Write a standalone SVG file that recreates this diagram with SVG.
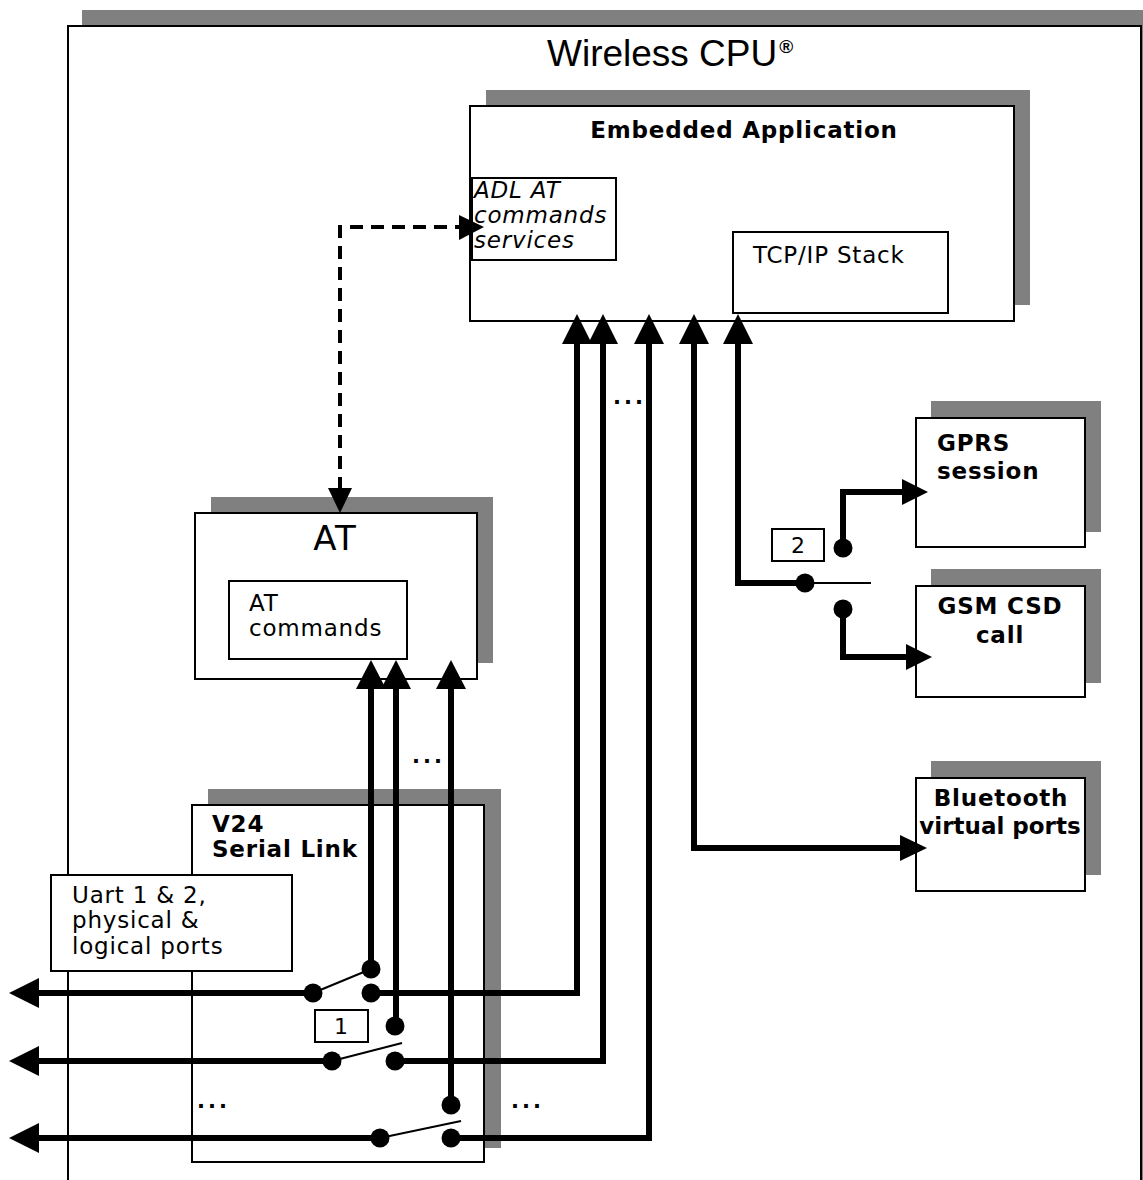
<svg xmlns="http://www.w3.org/2000/svg" width="1143" height="1180" viewBox="0 0 1143 1180">
<style>
.sh{fill:#808080;stroke:none}
.bx{fill:#fff;stroke:#000;stroke-width:2}
.t{font-family:"DejaVu Sans",Verdana,sans-serif;font-size:23px;letter-spacing:0.8px;fill:#000}
.b{font-weight:bold}
.i{font-style:italic}
.big{font-size:34px;letter-spacing:1px}
.sm{font-size:22px;letter-spacing:0}
.dots{font-size:21px;letter-spacing:3px;font-weight:bold}
.w{stroke:#000;stroke-width:6;fill:none}
.thin{stroke:#000;stroke-width:2;fill:none}
.dash{stroke:#000;stroke-width:4;fill:none;stroke-dasharray:13 8}
.dot{fill:#000}
.ah{fill:#000}
</style>
<rect x="0" y="0" width="1143" height="1180" fill="#fff"/>
<g id="wireless-cpu">
<rect class="sh" x="82" y="10" width="1090" height="1200"/>
<rect class="bx" x="68" y="26" width="1073" height="1200"/>
<text x="547" y="66" style="font-family:'Liberation Sans',Arial,sans-serif;font-size:37px">Wireless CPU<tspan dx="2" dy="-13" style="font-size:19px;font-weight:bold">®</tspan></text>
</g>
<g id="embedded-application">
<rect class="sh" x="486" y="90" width="544" height="215"/>
<rect class="bx" x="470" y="106" width="544" height="215"/>
<text class="t b" x="744" y="138" text-anchor="middle">Embedded Application</text>
</g>
<g id="adl-at-commands">
<rect class="bx" x="472" y="178" width="144" height="82"/>
<text class="t i" x="474" y="198">ADL AT</text>
<text class="t i" x="474" y="223">commands</text>
<text class="t i" x="474" y="248">services</text>
</g>
<g id="tcpip-stack">
<rect class="bx" x="733" y="232" width="215" height="81"/>
<text class="t" x="753" y="263">TCP/IP Stack</text>
</g>
<g id="at">
<rect class="sh" x="211" y="497" width="282" height="166"/>
<rect class="bx" x="195" y="513" width="282" height="166"/>
<text class="t big" x="335" y="550" text-anchor="middle">AT</text>
</g>
<g id="at-commands">
<rect class="bx" x="229" y="581" width="178" height="78"/>
<text class="t" x="249" y="611">AT</text>
<text class="t" x="249" y="636">commands</text>
</g>
<g id="gprs-session">
<rect class="sh" x="931" y="401" width="170" height="131"/>
<rect class="bx" x="916" y="418" width="169" height="129"/>
<text class="t b" x="937" y="451">GPRS</text>
<text class="t b" x="937" y="479">session</text>
</g>
<g id="gsm-csd-call">
<rect class="sh" x="931" y="569" width="170" height="114"/>
<rect class="bx" x="916" y="586" width="169" height="111"/>
<text class="t b" x="1000" y="614" text-anchor="middle">GSM CSD</text>
<text class="t b" x="1000" y="643" text-anchor="middle">call</text>
</g>
<g id="bluetooth-virtual-ports">
<rect class="sh" x="931" y="761" width="170" height="114"/>
<rect class="bx" x="916" y="778" width="169" height="113"/>
<text class="t b" x="1001" y="806" text-anchor="middle">Bluetooth</text>
<text class="t b" x="1000" y="834" text-anchor="middle" style="letter-spacing:0">virtual ports</text>
</g>
<g id="v24-serial-link">
<rect class="sh" x="208" y="789" width="293" height="359"/>
<rect class="bx" x="192" y="805" width="292" height="357"/>
<text class="t b" x="212" y="832">V24</text>
<text class="t b" x="212" y="857">Serial Link</text>
</g>
<g id="uart-ports">
<rect class="bx" x="51" y="875" width="241" height="96"/>
<text class="t" x="72" y="903">Uart 1 &amp; 2,</text>
<text class="t" x="72" y="928">physical &amp;</text>
<text class="t" x="72" y="954">logical ports</text>
</g>
<g id="switch-1-label">
<rect class="bx" x="315" y="1010" width="53" height="32"/>
<text class="t sm" x="341" y="1034" text-anchor="middle">1</text>
</g>
<g id="switch-2-label">
<rect class="bx" x="772" y="529" width="52" height="32"/>
<text class="t sm" x="798" y="553" text-anchor="middle">2</text>
</g>
<g id="connectors">
<polyline class="dash" points="340,490 340,227 460,227"/>
<polygon class="ah" points="340,513 328,488 352,488"/>
<polygon class="ah" points="484,227 459,215 459,240"/>
<polyline class="w" points="577,340 577,993 370,993"/>
<polyline class="w" points="603,340 603,1061 395,1061"/>
<polyline class="w" points="649,340 649,1138 451,1138"/>
<polyline class="w" points="694,340 694,848 902,848"/>
<polyline class="w" points="738,340 738,583 805,583"/>
<polygon class="ah" points="577,314 562,344 592,344"/>
<polygon class="ah" points="603,314 588,344 618,344"/>
<polygon class="ah" points="649,314 634,344 664,344"/>
<polygon class="ah" points="694,314 679,344 709,344"/>
<polygon class="ah" points="738,314 723,344 753,344"/>
<polygon class="ah" points="927,848 900,835 900,861"/>
<line class="thin" x1="805" y1="583" x2="871" y2="583"/>
<circle class="dot" cx="805" cy="583" r="9.5"/>
<circle class="dot" cx="843" cy="548" r="9.5"/>
<circle class="dot" cx="843" cy="609" r="9.5"/>
<polyline class="w" points="843,548 843,492 904,492"/>
<polyline class="w" points="843,609 843,657 908,657"/>
<polygon class="ah" points="928,492 902,479 902,505"/>
<polygon class="ah" points="932,657 906,644 906,670"/>
<line class="w" x1="371" y1="685" x2="371" y2="969"/>
<line class="w" x1="396" y1="685" x2="396" y2="1026"/>
<line class="w" x1="451" y1="685" x2="451" y2="1105"/>
<polygon class="ah" points="371,660 356,689 386,689"/>
<polygon class="ah" points="396,660 381,689 411,689"/>
<polygon class="ah" points="451,660 436,689 466,689"/>
<line class="w" x1="38" y1="993" x2="313" y2="993"/>
<line class="w" x1="38" y1="1061" x2="332" y2="1061"/>
<line class="w" x1="38" y1="1138" x2="380" y2="1138"/>
<polygon class="ah" points="9,993 39,978 39,1008"/>
<polygon class="ah" points="9,1061 39,1046 39,1076"/>
<polygon class="ah" points="9,1138 39,1123 39,1153"/>
<line class="thin" x1="313" y1="993" x2="371" y2="969"/>
<line class="thin" x1="332" y1="1061" x2="402" y2="1043"/>
<line class="thin" x1="380" y1="1138" x2="461" y2="1121"/>
<circle class="dot" cx="313" cy="993" r="9.5"/>
<circle class="dot" cx="371" cy="969" r="9.5"/>
<circle class="dot" cx="371" cy="993" r="9.5"/>
<circle class="dot" cx="332" cy="1061" r="9.5"/>
<circle class="dot" cx="395" cy="1026" r="9.5"/>
<circle class="dot" cx="395" cy="1061" r="9.5"/>
<circle class="dot" cx="380" cy="1138" r="9.5"/>
<circle class="dot" cx="451" cy="1105" r="9.5"/>
<circle class="dot" cx="451" cy="1138" r="9.5"/>
</g>
<g id="ellipses">
<text class="t dots" x="613" y="404">...</text>
<text class="t dots" x="412" y="763">...</text>
<text class="t dots" x="197" y="1108">...</text>
<text class="t dots" x="511" y="1108">...</text>
</g>
</svg>
